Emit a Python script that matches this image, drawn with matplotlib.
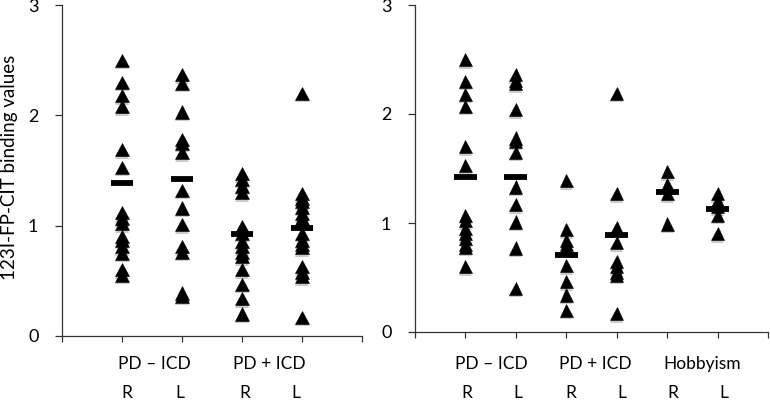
import matplotlib
matplotlib.use("Agg")
import matplotlib.pyplot as plt
import matplotlib.patheffects as pe

plt.rcParams['font.family'] = ['Lato', 'DejaVu Sans']

# ---- data ----
# Left panel: PD-ICD R, PD-ICD L, PD+ICD R, PD+ICD L
left_pdicd_minus_R = [2.50, 2.30, 2.18, 2.08, 1.69, 1.53, 1.12, 1.07, 1.02, 0.90, 0.87, 0.81, 0.75, 0.60, 0.55]
left_pdicd_minus_L = [2.37, 2.29, 2.03, 1.78, 1.75, 1.66, 1.32, 1.16, 1.01, 0.81, 0.76, 0.39, 0.36]
left_pdicd_plus_R = [1.47, 1.42, 1.36, 1.30, 0.99, 0.93, 0.86, 0.81, 0.76, 0.72, 0.60, 0.47, 0.34, 0.20]
left_pdicd_plus_L = [2.20, 1.29, 1.25, 1.22, 1.17, 1.11, 1.07, 0.93, 0.87, 0.83, 0.80, 0.63, 0.58, 0.54, 0.17]
left_means = [1.39, 1.42, 0.92, 0.98]

# Right panel: PD-ICD R, PD-ICD L, PD+ICD R, PD+ICD L, Hobbyism R, Hobbyism L
right_pdicd_minus_R = [2.50, 2.30, 2.18, 2.07, 1.70, 1.53, 1.07, 1.02, 0.95, 0.90, 0.86, 0.80, 0.78, 0.60]
right_pdicd_minus_L = [2.36, 2.31, 2.28, 2.04, 1.78, 1.75, 1.65, 1.33, 1.17, 1.01, 0.77, 0.40]
right_pdicd_plus_R = [1.39, 0.94, 0.84, 0.80, 0.77, 0.61, 0.46, 0.34, 0.20]
right_pdicd_plus_L = [2.19, 1.27, 0.96, 0.82, 0.65, 0.60, 0.55, 0.52, 0.17]
right_hobby_R = [1.47, 1.35, 1.27, 0.99]
right_hobby_L = [1.27, 1.21, 1.15, 1.07, 0.90]
right_means = [1.42, 1.42, 0.71, 0.89, 1.28, 1.13]

left_groups = ["PD \u2013 ICD", "PD + ICD"]
right_groups = ["PD \u2013 ICD", "PD + ICD", "Hobbyism"]
side_labels = ["R", "L"]
y_label = "123I-FP-CIT binding values"
y_ticks = [0, 1, 2, 3]

left_series = [left_pdicd_minus_R, left_pdicd_minus_L, left_pdicd_plus_R, left_pdicd_plus_L]
right_series = [right_pdicd_minus_R, right_pdicd_minus_L, right_pdicd_plus_R,
                right_pdicd_plus_L, right_hobby_R, right_hobby_L]

W, H = 770, 401
fig = plt.figure(figsize=(W / 100, H / 100), dpi=100)


def px_axes(x0, x1, ytop, ybot):
    return fig.add_axes([x0 / W, (H - ybot) / H, (x1 - x0) / W, (ybot - ytop) / H])


axL = px_axes(62, 362, 5, 336)
axR = px_axes(415, 768, 5, 332)

shadow = [pe.SimplePatchShadow(offset=(0, -1.8), shadow_rgbFace='0.6', alpha=0.5), pe.Normal()]


def draw(ax, series, means, nx):
    for i, vals in enumerate(series):
        pos = i + 1
        ax.plot([pos] * len(vals), vals, linestyle='none', marker='^', ms=9.5,
                color='black', mec='black', mew=0.4, zorder=3, path_effects=shadow, clip_on=False)
        ax.plot([pos], [means[i]], linestyle='none', marker='_', ms=16.5, mew=4.2,
                color='black', zorder=4, path_effects=shadow, clip_on=False)
    ax.set_xlim(0, nx)
    ax.set_ylim(0, 3)
    ax.set_xticks(range(0, nx + 1))
    ax.set_xticklabels([])
    ax.set_yticks(y_ticks)
    ax.set_yticklabels([str(t) for t in y_ticks])
    for s in ['top', 'right']:
        ax.spines[s].set_visible(False)
    for s in ['left', 'bottom']:
        ax.spines[s].set_linewidth(0.9)
        ax.spines[s].set_color('#333333')
    ax.tick_params(axis='y', length=5, width=0.9, color='#333333', pad=12, labelsize=13)
    ax.tick_params(axis='x', length=4, width=0.9, color='#333333')


draw(axL, left_series, left_means, 5)
draw(axR, right_series, right_means, 7)

axL.set_ylabel(y_label, fontsize=13.5)
axL.yaxis.set_label_coords(-0.145, 0.51)

def fig_text(xpx, ypx, s, size):
    fig.text(xpx / W, 1 - ypx / H, s, ha='center', va='center', fontsize=size)

for xpx, g in zip([154, 269], left_groups):
    fig_text(xpx, 364, g, 12.5)
for xpx, g in zip([491, 595, 702], right_groups):
    fig_text(xpx, 364, g, 12.5)
for k, xpx in enumerate([127, 180, 245, 296]):
    fig_text(xpx, 393, side_labels[k % 2], 12.5)
for k, xpx in enumerate([467, 518, 571, 622, 673, 724]):
    fig_text(xpx, 393, side_labels[k % 2], 12.5)

fig.savefig("out.png", dpi=100)
